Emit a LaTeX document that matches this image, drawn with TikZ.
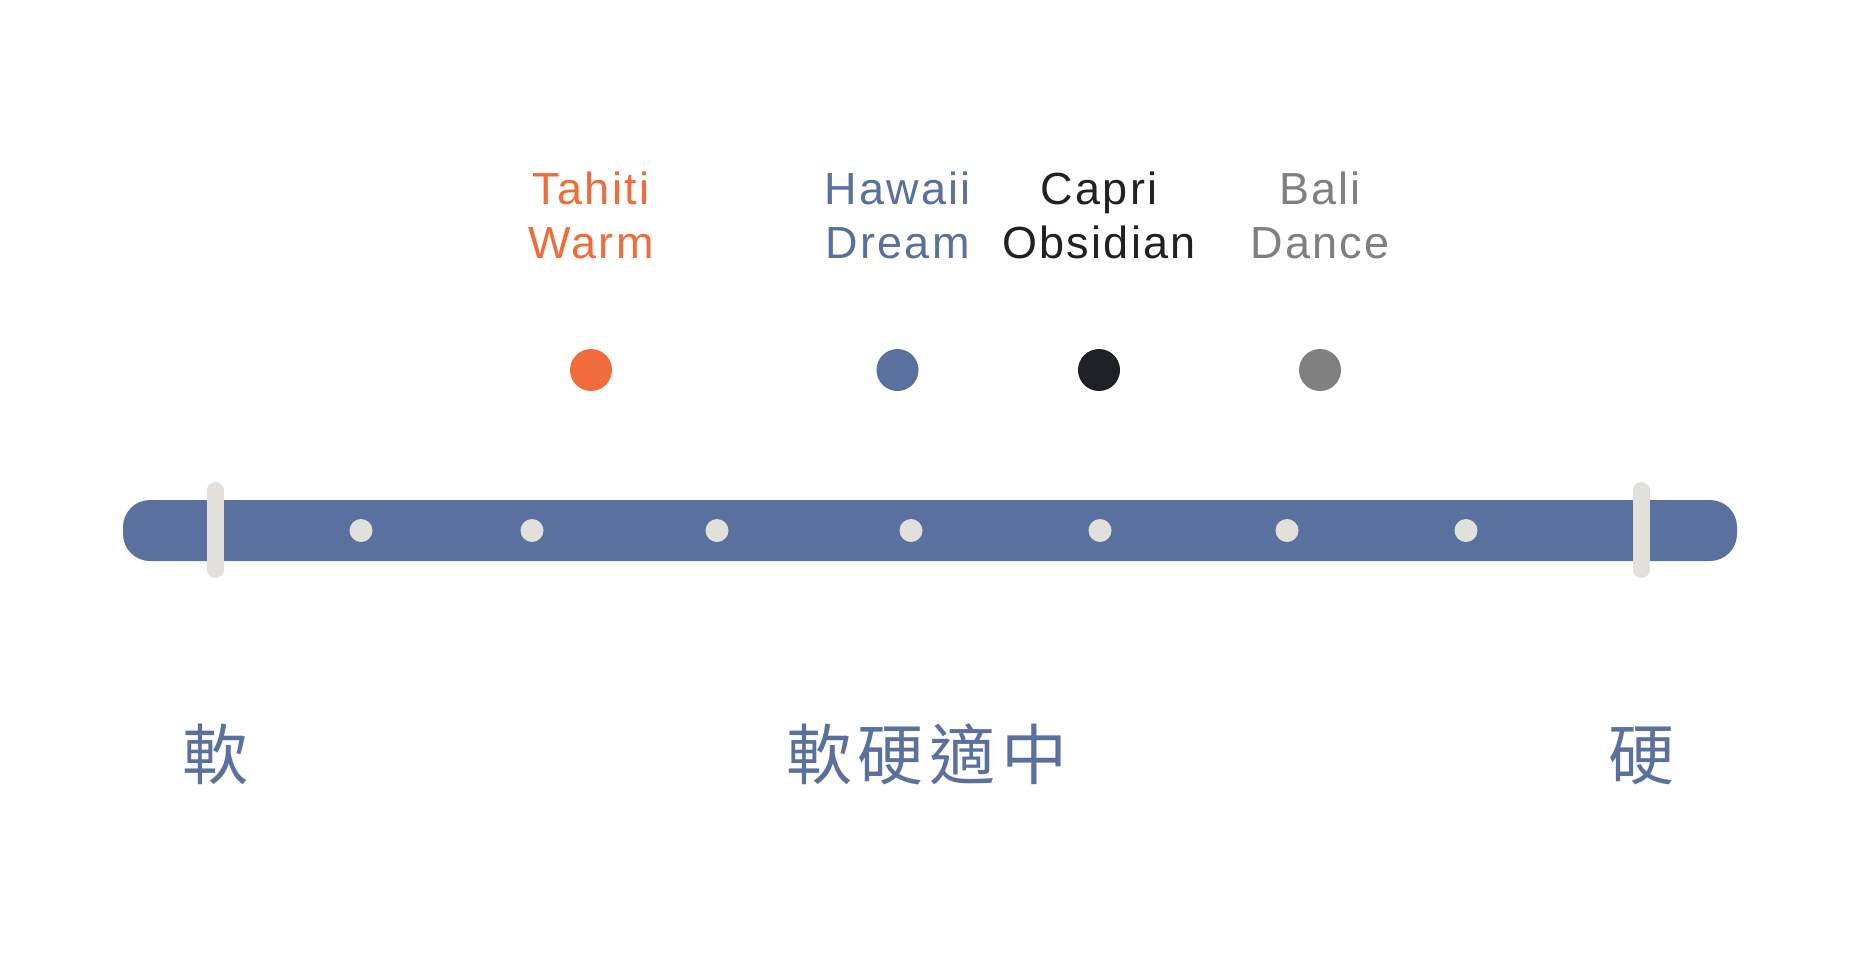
\documentclass[tikz,border=0pt]{standalone}
\usepackage{fontspec}
\setmainfont{Liberation Sans}
\newfontfamily\latinlabel[LetterSpace=5]{Liberation Sans}
\newfontfamily\cjklabel[LetterSpace=9]{Noto Sans CJK TC}
\definecolor{strapblue}{RGB}{90,112,158}
\definecolor{tahiti}{RGB}{241,108,59}
\definecolor{capri}{RGB}{31,33,38}
\definecolor{bali}{RGB}{128,128,128}
\definecolor{cream}{RGB}{226,224,219}
\tikzset{
  hole/.style={circle, fill=cream, minimum size=23pt, inner sep=0pt},
  swatch/.style={circle, minimum size=42pt, inner sep=0pt},
  lbl/.style={anchor=base, inner sep=0pt, font=\latinlabel\fontsize{45}{54}\selectfont},
  scalelbl/.style={anchor=base, inner sep=0pt, text=strapblue, font=\cjklabel\fontsize{66}{80}\selectfont},
  keeper/.style={draw=cream, line width=17pt, line cap=round}
}
\begin{document}
\begin{tikzpicture}[x=1pt,y=-1pt]
\useasboundingbox (0,0) rectangle (1861,954);
\fill[white] (0,0) rectangle (1861,954);
% strap
\fill[strapblue, rounded corners=27pt] (123,500) rectangle (1737,561);
\coordinate (k1a) at (215,490.5); \coordinate (k1b) at (215,569.5);
\coordinate (k2a) at (1641,490.5); \coordinate (k2b) at (1641,569.5);
\draw[keeper] (k1a) -- (k1b);
\draw[keeper] (k2a) -- (k2b);
% holes
\node[hole] (h1) at (361,530.5) {};
\node[hole] (h2) at (532,530.5) {};
\node[hole] (h3) at (717,530.5) {};
\node[hole] (h4) at (911,530.5) {};
\node[hole] (h5) at (1100,530.5) {};
\node[hole] (h6) at (1287,530.5) {};
\node[hole] (h7) at (1466,530.5) {};
% swatches
\node[swatch, fill=tahiti] (s1) at (591,370) {};
\node[swatch, fill=strapblue] (s2) at (897.5,370) {};
\node[swatch, fill=capri] (s3) at (1099,370) {};
\node[swatch, fill=bali] (s4) at (1320,370) {};
% labels
\node[lbl, text=tahiti] (t1a) at (591,204) {Tahiti};
\node[lbl, text=tahiti] (t1b) at (591,258.5) {Warm};
\node[lbl, text=strapblue] (t2a) at (897.5,204) {Hawaii};
\node[lbl, text=strapblue] (t2b) at (897.5,258.5) {Dream};
\node[lbl, text=capri] (t3a) at (1099,204) {Capri};
\node[lbl, text=capri] (t3b) at (1099,258.5) {Obsidian};
\node[lbl, text=bali] (t4a) at (1320,204) {Bali};
\node[lbl, text=bali] (t4b) at (1320,258.5) {Dance};
% scale labels
\node[scalelbl] (soft) at (215,779) {軟};
\node[scalelbl] (mid) at (927,779) {軟硬適中};
\node[scalelbl] (hard) at (1641,779) {硬};
\end{tikzpicture}
\end{document}
